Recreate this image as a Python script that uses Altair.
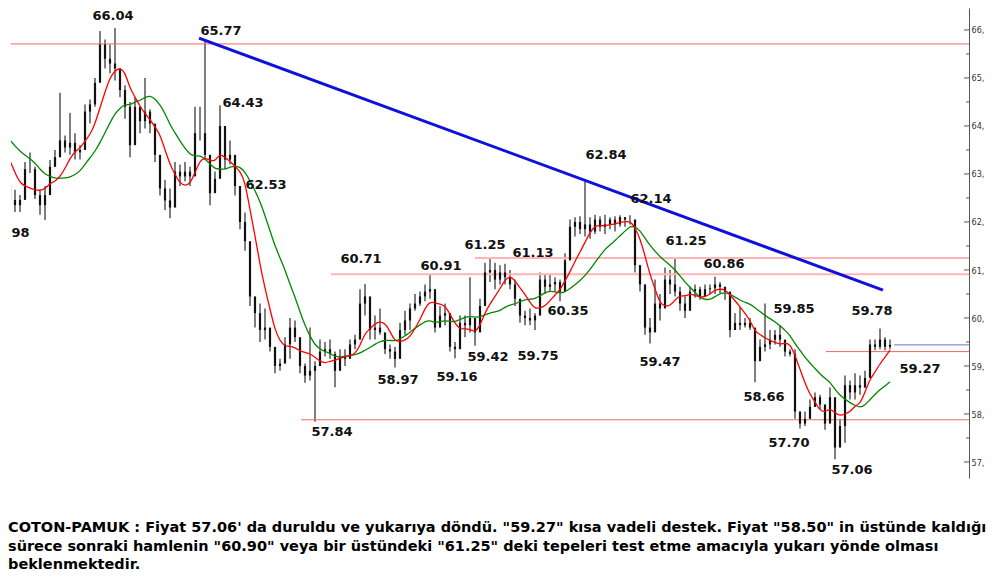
import altair as alt
import pandas as pd

# ---------------- data ----------------
# warm-up closes before the visible window (only feed the moving averages)
PRE_C = [64.2, 63.9, 64.3, 64.1, 63.8, 64.2, 64.0, 63.8, 63.9, 63.7, 63.5, 63.35]

H = [63.08, 62.88, 62.67, 62.56, 63.25, 63.45, 63.15, 62.67, 62.75, 63.29,
     63.50, 64.69, 63.80, 64.27, 63.85, 63.60, 64.45, 64.55, 65.00, 65.98,
     65.80, 65.70, 66.04, 65.20, 64.85, 64.50, 64.60, 64.40, 65.00, 64.35,
     63.85, 63.15, 62.88, 62.70, 63.25, 63.20, 63.25, 63.15, 64.40, 64.40,
     65.77, 63.30, 63.05, 64.43, 63.65, 63.70, 63.25, 62.55, 62.20, 61.40,
     60.40, 60.30, 60.20, 59.55, 59.35, 59.15, 59.60, 60.00, 59.95, 59.40,
     59.05, 59.80, 59.10, 59.55, 59.50, 59.55, 59.30, 59.35, 59.35, 59.55,
     59.65, 60.60, 60.71, 60.30, 60.05, 60.20, 59.55, 59.45, 59.40, 59.90,
     60.15, 60.30, 60.50, 60.55, 60.70, 60.91, 60.40, 60.25, 60.30, 59.75,
     59.50, 60.05, 60.05, 60.85, 59.95, 60.40, 61.15, 61.25, 61.15, 61.10,
     61.13, 61.00, 60.80, 60.40, 60.15, 60.20, 60.10, 60.95, 60.90, 60.90,
     60.85, 60.80, 61.35, 62.05, 62.10, 62.12, 62.84, 62.10, 62.15, 62.12,
     62.15, 62.10, 62.12, 62.14, 62.10, 62.14, 62.05, 61.10, 60.60, 60.00,
     60.80, 60.50, 61.05, 61.00, 61.25, 60.65, 60.45, 60.65, 60.70, 60.65,
     60.70, 60.70, 60.86, 60.75, 60.65, 60.30, 60.10, 60.23, 60.00, 60.00,
     59.70, 59.55, 60.30, 59.75, 59.75, 59.85, 59.45, 59.35, 59.35, 58.05,
     58.05, 58.30, 58.45, 58.40, 58.15, 58.55, 58.05, 57.90, 58.80, 58.70,
     58.85, 58.80, 58.90, 59.55, 59.55, 59.78, 59.60, 59.55]

L = [62.46, 62.35, 62.21, 62.21, 62.60, 63.02, 62.48, 62.15, 62.04, 62.85,
     63.15, 63.35, 63.45, 63.40, 63.30, 63.30, 63.80, 64.05, 64.40, 65.25,
     65.20, 65.10, 64.95, 64.60, 64.15, 63.35, 64.25, 63.85, 63.95, 63.85,
     63.25, 62.55, 62.25, 62.08, 62.80, 62.75, 62.85, 62.75, 63.10, 63.70,
     63.30, 62.35, 62.75, 62.95, 63.10, 63.20, 62.55, 61.85, 61.40, 60.25,
     59.80, 59.50, 59.55, 59.30, 58.85, 58.90, 59.15, 59.15, 59.50, 58.85,
     58.65, 58.70, 57.84, 59.10, 59.20, 59.15, 58.56, 59.05, 59.00, 59.20,
     59.35, 59.65, 60.05, 59.55, 59.55, 59.65, 59.25, 59.15, 58.97, 59.40,
     59.65, 59.75, 60.15, 60.25, 60.35, 60.40, 59.70, 59.85, 59.85, 59.30,
     59.16, 59.55, 59.60, 59.70, 59.42, 59.75, 60.35, 60.75, 60.60, 60.70,
     60.70, 60.60, 60.25, 59.90, 59.85, 59.85, 59.75, 60.15, 60.50, 60.55,
     60.55, 60.35, 60.65, 61.35, 61.70, 61.75, 61.70, 61.65, 61.75, 61.80,
     61.75, 61.85, 61.80, 61.90, 61.90, 61.95, 60.95, 60.55, 59.65, 59.47,
     59.95, 59.95, 60.45, 60.50, 60.45, 60.15, 60.00, 60.38, 60.42, 60.38,
     60.45, 60.50, 60.50, 60.52, 60.38, 59.60, 59.75, 59.75, 59.80, 59.75,
     58.66, 59.25, 59.30, 59.35, 59.45, 59.40, 59.20, 59.20, 57.90, 57.70,
     57.75, 57.90, 58.15, 58.10, 57.67, 58.00, 57.06, 57.55, 57.40, 58.30,
     58.30, 58.40, 58.55, 58.85, 59.33, 59.35, 59.33, 59.35]

C = [62.77, 62.46, 62.35, 62.46, 63.10, 63.10, 62.56, 62.35, 62.56, 63.15,
     63.35, 63.70, 63.55, 63.65, 63.45, 63.50, 64.30, 64.45, 64.90, 65.70,
     65.40, 65.30, 65.20, 64.75, 64.40, 63.60, 64.40, 64.10, 64.30, 64.05,
     63.40, 62.70, 62.45, 62.30, 63.05, 62.95, 63.05, 62.95, 63.85, 63.85,
     63.40, 62.60, 62.90, 64.00, 63.30, 63.40, 62.75, 62.00, 61.60, 60.45,
     60.10, 59.75, 59.80, 59.40, 59.00, 59.05, 59.45, 59.80, 59.60, 59.00,
     58.80, 58.90, 59.00, 59.30, 59.35, 59.25, 58.90, 59.20, 59.15, 59.45,
     59.55, 60.30, 60.45, 59.75, 59.80, 59.70, 59.35, 59.30, 59.15, 59.75,
     59.95, 60.20, 60.30, 60.45, 60.55, 60.60, 59.80, 60.05, 60.10, 59.40,
     59.35, 59.90, 59.85, 60.00, 59.70, 60.25, 60.95, 61.00, 60.80, 60.95,
     60.85, 60.70, 60.40, 60.05, 60.00, 59.95, 60.05, 60.80, 60.65, 60.70,
     60.75, 60.55, 61.20, 61.90, 62.00, 61.85, 61.95, 61.80, 62.05, 61.90,
     61.95, 62.05, 61.95, 62.10, 62.05, 62.05, 61.10, 60.70, 59.80, 59.70,
     60.30, 60.20, 60.80, 60.70, 60.55, 60.30, 60.15, 60.55, 60.60, 60.45,
     60.60, 60.62, 60.70, 60.65, 60.55, 59.75, 59.90, 59.85, 59.90, 59.80,
     59.10, 59.40, 59.45, 59.55, 59.65, 59.55, 59.30, 59.25, 58.05, 57.80,
     57.90, 58.15, 58.35, 58.20, 57.80, 58.35, 57.30, 57.75, 58.60, 58.45,
     58.60, 58.55, 58.75, 59.45, 59.40, 59.55, 59.40, 59.44]

# horizontal levels (value, start bar); all run to the right edge
RED_V = [65.71, 57.88, 59.30]
RED_X0 = [-5.0, 59.2, 164.2]
PINK_V = [61.25, 60.91]
PINK_X0 = [94.0, 65.2]
BLUE_V = [59.44]
BLUE_X0 = [177.8]
X_END = 192.8

# down trendline
TL_X = [38.8, 175.6]
TL_V = [65.83, 60.58]

# price labels
LBL_TEXT = ["66.04", "65.77", "64.43", "62.53", "61.98", "60.71", "60.91", "61.25",
            "61.13", "62.84", "62.14", "61.25", "60.86", "59.85", "59.78", "59.27",
            "60.35", "59.47", "59.75", "59.42", "59.16", "58.97", "57.84", "58.66",
            "57.70", "57.06"]
LBL_I = [21.6, 43.2, 47.6, 52.2, 0.8, 71.2, 87.2, 96.0,
         105.6, 120.2, 129.2, 136.2, 143.8, 157.8, 173.4, 183.0,
         112.6, 131.0, 106.6, 96.6, 90.4, 78.6, 65.4, 151.8,
         156.8, 169.4]
LBL_V = [66.29, 65.98, 64.48, 62.77, 61.77, 61.23, 61.08, 61.52,
         61.35, 63.40, 62.48, 61.60, 61.13, 60.19, 60.15, 58.94,
         60.15, 59.08, 59.21, 59.19, 58.77, 58.71, 57.63, 58.35,
         57.40, 56.83]

TICK_MAJOR = [57, 58, 59, 60, 61, 62, 63, 64, 65, 66]
TICK_MINOR = [56.5, 57.5, 58.5, 59.5, 60.5, 61.5, 62.5, 63.5, 64.5, 65.5, 66.5]

NOTE = [
    "COTON-PAMUK : Fiyat 57.06' da duruldu ve yukarıya döndü. \"59.27\" kısa vadeli destek. Fiyat \"58.50\" in üstünde kaldığı",
    "sürece sonraki hamlenin \"60.90\" veya bir üstündeki \"61.25\" deki tepeleri test etme amacıyla yukarı yönde olması",
    "beklenmektedir.",
]

# ---------------- tables ----------------
n_pre = len(PRE_C)
bars_df = pd.DataFrame({
    "i": list(range(-n_pre, len(C))),
    "h": [None] * n_pre + H,
    "l": [None] * n_pre + L,
    "c": PRE_C + C,
})
red_df = pd.DataFrame({"v": RED_V, "x0": RED_X0, "x1": [X_END] * len(RED_V)})
pink_df = pd.DataFrame({"v": PINK_V, "x0": PINK_X0, "x1": [X_END] * len(PINK_V)})
blue_df = pd.DataFrame({"v": BLUE_V, "x0": BLUE_X0, "x1": [X_END] * len(BLUE_V)})
tl_df = pd.DataFrame({"x": TL_X, "v": TL_V})
lbl_df = pd.DataFrame({"t": LBL_TEXT, "i": LBL_I, "v": LBL_V})
tmaj_df = pd.DataFrame({"v": TICK_MAJOR, "x0": [X_END - 1.0] * len(TICK_MAJOR), "x1": [X_END] * len(TICK_MAJOR)})
tmin_df = pd.DataFrame({"v": TICK_MINOR, "x0": [X_END - 0.6] * len(TICK_MINOR), "x1": [X_END] * len(TICK_MINOR)})

XS = alt.Scale(domain=[1.2, X_END], nice=False, zero=False)
YS = alt.Scale(domain=[56.667, 66.458], nice=False, zero=False)

# identical axis on every layer so the layer merge keeps it
YAX = alt.Axis(orient="right", values=TICK_MAJOR, ticks=False,
               labelExpr="datum.value + ','", title=None, grid=False,
               domainColor="#555555", labelColor="#333333", labelFont="DejaVu Sans Condensed",
               labelFontSize=9, labelPadding=2)


def X(field):
    return alt.X(field, scale=XS, axis=None)


def Y(field):
    return alt.Y(field, scale=YS, axis=YAX)


srt = [alt.SortField("i")]
base = (alt.Chart(bars_df)
        .transform_window(o="lag(c)", sort=srt)
        .transform_window(ma_r="mean(c)", frame=[-5, 0], sort=srt)
        .transform_window(ma_g="mean(c)", frame=[-13, 0], sort=srt))

hl = base.transform_filter("datum.i >= 0").mark_rule(color="#555555", strokeWidth=1.5, clip=True).encode(
    x=X("i:Q"), y=Y("l:Q"), y2="h:Q")
body = base.transform_filter("datum.i >= 0").mark_rule(color="#111111", strokeWidth=2.2, clip=True).encode(
    x=X("i:Q"), y=Y("o:Q"), y2="c:Q")
ma_r = base.mark_line(color="#ff0000", strokeWidth=1.3, clip=True, interpolate="basis").encode(
    x=X("i:Q"), y=Y("ma_r:Q"))
ma_g = base.mark_line(color="#008800", strokeWidth=1.3, clip=True, interpolate="basis").encode(
    x=X("i:Q"), y=Y("ma_g:Q"))


def hlines(df, color, width):
    return alt.Chart(df).mark_rule(color=color, strokeWidth=width, clip=True).encode(
        x=X("x0:Q"), x2="x1:Q", y=Y("v:Q"))


red_l = hlines(red_df, "#f46464", 1)
pink_l = hlines(pink_df, "#ffb4b4", 2)
blue_l = hlines(blue_df, "#7070c8", 1)
tmaj = hlines(tmaj_df, "#555555", 1)
tmin = hlines(tmin_df, "#555555", 1)

trend = alt.Chart(tl_df).mark_line(color="#1010dd", strokeWidth=3, clip=True).encode(
    x=X("x:Q"), y=Y("v:Q"))

labels = alt.Chart(lbl_df).mark_text(font="DejaVu Sans", fontWeight="bold", fontSize=13, clip=True,
                                     color="#111111", align="center", baseline="middle").encode(
    x=X("i:Q"), y=Y("v:Q"), text="t:N")

chart = alt.layer(hl, red_l, pink_l, blue_l, tmaj, tmin, body, ma_g, ma_r, trend, labels).properties(
    width=958, height=470,
    padding={"left": 0, "top": 0, "right": 5, "bottom": 0},
    background="white",
    title=alt.TitleParams(text=NOTE, orient="bottom", anchor="start",
                          font="DejaVu Sans", fontSize=14.5, fontWeight="bold",
                          color="#000000", lineHeight=18.5, offset=43, dx=-3),
).configure_view(strokeWidth=0)

chart.save("out.html", embed_options={"renderer": "svg", "actions": False})
